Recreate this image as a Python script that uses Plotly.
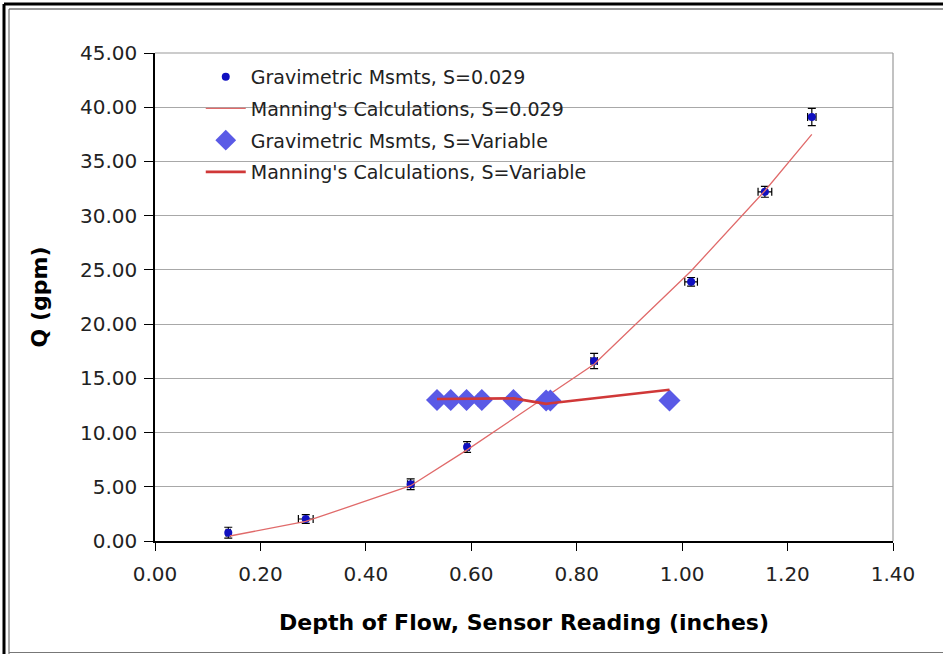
import plotly.graph_objects as go

# Gravimetric measurements, S=0.029
grav_x = [0.139, 0.286, 0.485, 0.592, 0.833, 1.017, 1.157, 1.246]
grav_y = [0.77, 2.03, 5.23, 8.67, 16.6, 23.9, 32.2, 39.1]
grav_xerr = [0.004, 0.014, 0.006, 0.004, 0.006, 0.012, 0.013, 0.008]
grav_yerr = [0.5, 0.4, 0.5, 0.5, 0.7, 0.4, 0.5, 0.8]

# Manning's calculations, S=0.029
man_x = [0.142, 0.286, 0.485, 0.592, 0.833, 1.017, 1.157, 1.246]
man_y = [0.46, 1.8, 5.1, 8.4, 16.3, 24.9, 32.3, 37.5]

# Gravimetric measurements, S=Variable
var_x = [0.535, 0.561, 0.591, 0.620, 0.680, 0.742, 0.750, 0.976]
var_y = [13.0, 13.0, 13.0, 13.0, 13.0, 12.95, 12.95, 12.95]
var_yerr = [0.3, 0.3, 0.3, 0.6, 0.3, 0.5, 0.5, 0.5]

# Manning's calculations, S=Variable
manv_x = [0.535, 0.561, 0.591, 0.620, 0.680, 0.742, 0.750, 0.976]
manv_y = [13.1, 13.1, 13.1, 13.1, 13.15, 12.65, 12.7, 13.95]

x_ticks = [0.0, 0.2, 0.4, 0.6, 0.8, 1.0, 1.2, 1.4]
y_ticks = [0, 5, 10, 15, 20, 25, 30, 35, 40, 45]

FONT = "DejaVu Sans"

fig = go.Figure()
fig.add_trace(go.Scatter(
    x=grav_x, y=grav_y, mode="markers", name="Gravimetric Msmts, S=0.029",
    legendgroup="a",
    marker=dict(symbol="circle", size=8, color="#1010C0"),
    error_x=dict(type="data", array=grav_xerr, color="black", thickness=1.2, width=4),
    error_y=dict(type="data", array=grav_yerr, color="black", thickness=1.2, width=4),
))
fig.add_trace(go.Scatter(
    x=man_x, y=man_y, mode="lines", name="Manning's Calculations, S=0.029",
    legendgroup="b",
    line=dict(color="#E06A6A", width=1.3),
))
fig.add_trace(go.Scatter(
    x=var_x, y=var_y, mode="markers", name="Gravimetric Msmts, S=Variable",
    legendgroup="c",
    marker=dict(symbol="diamond", size=17, color="#5A5AE6"),
    error_y=dict(type="data", array=var_yerr, color="black", thickness=1, width=4),
))
fig.add_trace(go.Scatter(
    x=manv_x, y=manv_y, mode="lines", name="Manning's Calculations, S=Variable",
    legendgroup="d",
    line=dict(color="#D03838", width=2.6),
))

fig.update_layout(
    width=943, height=654,
    margin=dict(l=155, r=50, t=53, b=113),
    paper_bgcolor="white", plot_bgcolor="white",
    font=dict(family=FONT, size=20, color="#222222"),
    showlegend=True,
    legend=dict(x=0.062, y=0.99, xanchor="left", yanchor="top",
                bgcolor="rgba(0,0,0,0)", font=dict(family=FONT, size=19, color="#222222"),
                traceorder="grouped", tracegroupgap=4, itemwidth=40),
    xaxis=dict(range=[0, 1.4], tickvals=x_ticks,
               ticktext=["%.2f" % v for v in x_ticks],
               showgrid=False, zeroline=False,
               showline=True, linecolor="black", linewidth=1.5,
               ticks="outside", ticklen=8, tickcolor="black", ticklabelstandoff=6,
               tickfont=dict(family=FONT, size=20, color="#222222"),
               title=dict(text="<b>Depth of Flow, Sensor Reading (inches)</b>",
                          font=dict(family=FONT, size=22, color="black"), standoff=30)),
    yaxis=dict(range=[0, 45], tickvals=y_ticks,
               ticktext=["%.2f" % v for v in y_ticks],
               showgrid=True, gridcolor="#A8A8A8", gridwidth=1.2, zeroline=False,
               showline=True, linecolor="black", linewidth=1.5,
               ticks="outside", ticklen=9, tickcolor="black", ticklabelstandoff=3,
               tickfont=dict(family=FONT, size=20, color="#222222"),
               title=dict(text="<b>Q (gpm)</b>",
                          font=dict(family=FONT, size=22, color="black"), standoff=26)),
)

# plot frame top/right (gray)
fig.add_shape(type="line", xref="paper", yref="paper", x0=0, x1=1, y0=1, y1=1,
              line=dict(color="#999999", width=1.2))
fig.add_shape(type="line", xref="paper", yref="paper", x0=1, x1=1, y0=0, y1=1,
              line=dict(color="#999999", width=1.2))

# outer double border (pixel -> paper conversion)
L, W, T, H = 155, 738, 53, 488
def px(p):
    return (p - L) / W
def py(p):
    return (T + H - p) / H

fig.add_shape(type="line", xref="paper", yref="paper", x0=px(4), x1=px(943), y0=py(4), y1=py(4),
              line=dict(color="black", width=3))
fig.add_shape(type="line", xref="paper", yref="paper", x0=px(4), x1=px(4), y0=py(4), y1=py(654),
              line=dict(color="black", width=3))
fig.add_shape(type="line", xref="paper", yref="paper", x0=px(9), x1=px(943), y0=py(9), y1=py(9),
              line=dict(color="#333333", width=1))
fig.add_shape(type="line", xref="paper", yref="paper", x0=px(9), x1=px(9), y0=py(9), y1=py(654),
              line=dict(color="#555555", width=1))
fig.add_shape(type="line", xref="paper", yref="paper", x0=px(9), x1=px(943), y0=py(652.5), y1=py(652.5),
              line=dict(color="#777777", width=1.2))

fig.write_html("out.html")
